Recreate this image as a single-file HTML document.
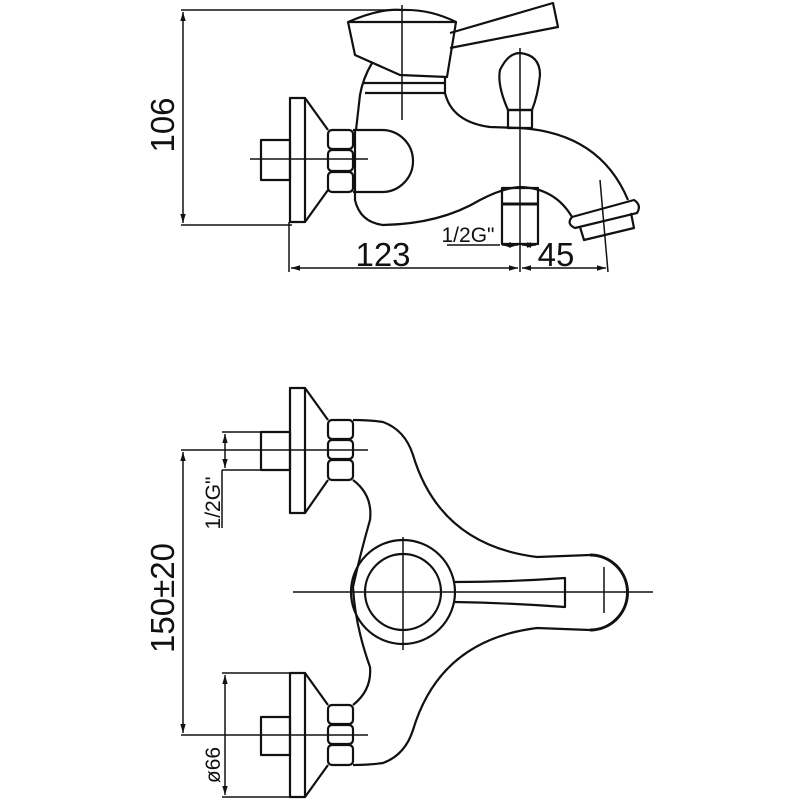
<!DOCTYPE html>
<html><head><meta charset="utf-8"><style>
html,body{margin:0;padding:0;background:#fff;width:800px;height:800px;overflow:hidden}
svg{display:block}
text{font-family:"Liberation Sans","DejaVu Sans",sans-serif;fill:#111}
</style></head><body>
<svg width="800" height="800" viewBox="0 0 800 800" xmlns="http://www.w3.org/2000/svg">
<defs>
<marker id="a" viewBox="0 0 10 10" refX="10" refY="5" markerWidth="6" markerHeight="6" orient="auto-start-reverse"><path d="M0,2 L10,5 L0,8z" fill="#111"/></marker>
</defs>
<g fill="none" stroke="#111" stroke-width="2.2" stroke-linejoin="round">
<!-- ===== TOP VIEW ===== -->
<line x1="181" y1="10" x2="400" y2="10" stroke-width="1.5"/>
<line x1="181" y1="225" x2="292" y2="225" stroke-width="1.5"/>
<line x1="183" y1="12" x2="183" y2="223" stroke-width="1.5" marker-start="url(#a)" marker-end="url(#a)"/>
<line x1="289" y1="222" x2="289" y2="272" stroke-width="1.5"/>
<line x1="291" y1="268" x2="518" y2="268" stroke-width="1.5" marker-start="url(#a)" marker-end="url(#a)"/>
<line x1="522" y1="268" x2="606" y2="268" stroke-width="1.5" marker-start="url(#a)" marker-end="url(#a)"/>
<line x1="600" y1="180" x2="608" y2="272" stroke-width="1.5"/>
<line x1="447" y1="245" x2="500" y2="245" stroke-width="1.5"/>
<line x1="502" y1="245" x2="518" y2="245" stroke-width="1.5" marker-start="url(#a)" marker-end="url(#a)"/>
<line x1="522" y1="245" x2="536" y2="245" stroke-width="1.5" marker-start="url(#a)" marker-end="url(#a)"/>
<line x1="250" y1="159" x2="368" y2="159" stroke-width="1.5"/>
<line x1="305" y1="98" x2="305" y2="222" stroke-width="1.5"/>
<line x1="402" y1="5" x2="402" y2="120" stroke-width="1.5"/>
<line x1="520" y1="48" x2="520" y2="272" stroke-width="1.5"/>
<rect x="290" y="98" width="15" height="124"/>
<path d="M305,98 L328,130 M305,222 L328,190"/>
<rect x="261" y="140" width="29" height="40"/>
<rect x="328" y="130" width="25" height="19" rx="4"/>
<rect x="328" y="150" width="25" height="21" rx="4"/>
<rect x="328" y="172" width="25" height="20" rx="4"/>
<path d="M353,130 H382 A31,31 0 0 1 382,192 H353"/>
<path d="M355,130 L355,200 Q360,222 383,225 Q440,224 480,200 Q503,188 520,187 Q555,188 572,217"/>
<path d="M356,130 L360,95 Q363,78 372,63"/>
<path d="M363,83 H445 M365,93 H445"/>
<path d="M445,78 L445,93 Q452,122 490,127 L520,128 Q600,133 628,200"/>
<path d="M348,22 Q380,8 402,10 Q430,9 456,22 L447,77 L400,75 L355,55 Z"/>
<path d="M348,22 H456"/>
<path d="M450,33 L553,3 L558,27 L450,48"/>
<path d="M508,110 Q497,85 500,70 Q508,53 520,53 Q540,55 540,75 Q538,95 532,110 Z"/>
<rect x="508" y="110" width="24" height="18"/>
<path d="M572,217 L634,200 Q642,205 637,213 L575,228 Q566,224 572,217 Z"/>
<path d="M580,227 L584,240 L634,228 L631,213"/>
<rect x="502" y="188" width="36" height="56"/>
<line x1="502" y1="204" x2="538" y2="204" stroke-width="3"/>
<!-- ===== BOTTOM VIEW ===== -->
<line x1="181" y1="450" x2="368" y2="450" stroke-width="1.5"/>
<line x1="181" y1="735" x2="368" y2="735" stroke-width="1.5"/>
<line x1="183" y1="452" x2="183" y2="733" stroke-width="1.5" marker-start="url(#a)" marker-end="url(#a)"/>
<line x1="222" y1="432" x2="290" y2="432" stroke-width="1.5"/>
<line x1="222" y1="470" x2="262" y2="470" stroke-width="1.5"/>
<line x1="225" y1="434" x2="225" y2="468" stroke-width="1.5" marker-start="url(#a)" marker-end="url(#a)"/>
<line x1="222" y1="470" x2="222" y2="528" stroke-width="1.5"/>
<line x1="222" y1="673" x2="290" y2="673" stroke-width="1.5"/>
<line x1="225" y1="675" x2="225" y2="795" stroke-width="1.5" marker-start="url(#a)" marker-end="url(#a)"/>
<line x1="222" y1="797" x2="290" y2="797" stroke-width="1.5"/>
<rect x="290" y="388" width="15" height="125"/>
<path d="M305,388 L328,420 M305,513 L328,480"/>
<rect x="261" y="432" width="29" height="38"/>
<rect x="328" y="420" width="25" height="19" rx="4"/>
<rect x="328" y="440" width="25" height="19" rx="4"/>
<rect x="328" y="460" width="25" height="20" rx="4"/>
<rect x="290" y="673" width="15" height="124"/>
<path d="M305,673 L328,705 M305,797 L328,765"/>
<rect x="261" y="717" width="29" height="38"/>
<rect x="328" y="705" width="25" height="19" rx="4"/>
<rect x="328" y="725" width="25" height="19" rx="4"/>
<rect x="328" y="745" width="25" height="20" rx="4"/>
<path d="M353,420 Q370,420 383,422 Q405,430 413,455 Q440,545 537,557 L590,555"/>
<path d="M353,765 Q370,765 383,763 Q405,755 413,730 Q440,640 537,628 L590,630"/>
<path d="M353,480 Q373,495 370,520 Q360,555 353,587 Q355,625 370,667 Q372,690 353,705"/>
<path d="M590,555 A37,37 0 0 1 590,630" stroke-width="3"/>
<circle cx="403" cy="592" r="52"/>
<circle cx="403" cy="592" r="38"/>
<path d="M455,582 Q510,582 565,578 L565,607 Q510,603 455,602"/>
<line x1="293" y1="592" x2="653" y2="592" stroke-width="1.5"/>
<line x1="403" y1="537" x2="403" y2="650" stroke-width="1.5"/>
<line x1="604" y1="567" x2="604" y2="613" stroke-width="1.5"/>
</g>
<text transform="translate(174,125) rotate(-90)" font-size="33" text-anchor="middle">106</text>
<text x="383" y="266" font-size="33" text-anchor="middle">123</text>
<text x="556" y="266" font-size="33" text-anchor="middle">45</text>
<text x="468" y="242" font-size="21" text-anchor="middle">1/2G"</text>
<text transform="translate(174,598) rotate(-90)" font-size="33" text-anchor="middle">150±20</text>
<text transform="translate(220,503) rotate(-90)" font-size="21" text-anchor="middle">1/2G"</text>
<text transform="translate(220,765) rotate(-90)" font-size="21" text-anchor="middle">ø66</text>
</svg>
</body></html>
